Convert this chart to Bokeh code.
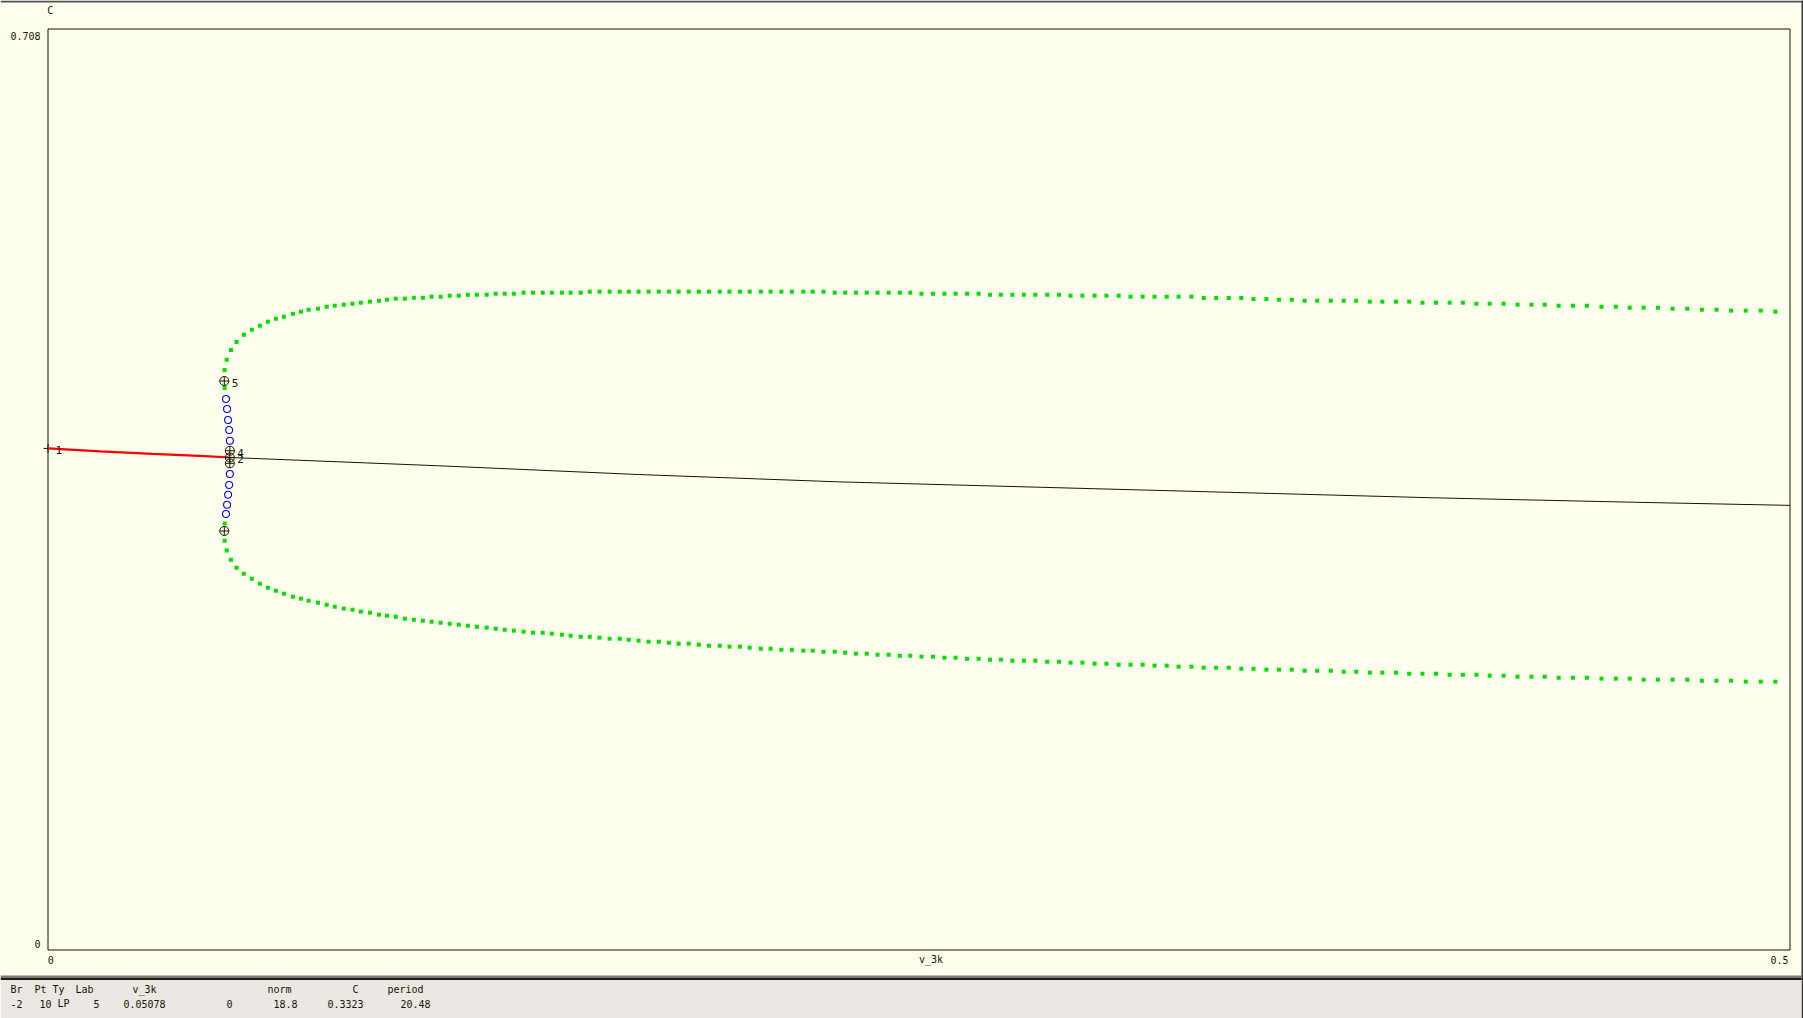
from bokeh.plotting import figure
from bokeh.models import Range1d
from bokeh.embed import file_html
from bokeh.resources import INLINE
from bokeh.core.properties import value

# ---------------- data ----------------
x_label = "v_3k"
y_label = "C"
x_range_lim = [0.0, 0.5]
y_range_lim = [0.0, 0.708]
x_tick_labels = ["0", "0.5"]
y_tick_labels = ["0", "0.708"]

# steady state branch: stable part (red) and unstable part (black)
ss_stable_v = [0.0, 0.015, 0.030, 0.045, 0.0522]
ss_stable_c = [0.3856, 0.3833, 0.3814, 0.3796, 0.3786]
ss_unstable_v = [0.0522, 0.1124, 0.1695, 0.2266, 0.2837, 0.3409, 0.3980, 0.4551, 0.5]
ss_unstable_c = [0.3786, 0.3722, 0.3655, 0.3599, 0.3558, 0.3517, 0.3476, 0.3442, 0.3418]

# unstable periodic orbits (max / min), Hopf -> limit point
upo_v = [0.0522, 0.0520, 0.0517, 0.0514, 0.0511]
upo_cmax = [0.3915, 0.3997, 0.4074, 0.4159, 0.4236]
upo_cmin = [0.3659, 0.3575, 0.3500, 0.3423, 0.3352]

# stable periodic orbits (max / min)
po_v = [0.0507, 0.0507, 0.0513, 0.0525, 0.0541, 0.0562, 0.0585, 0.0608, 0.0631, 0.0654,
        0.0677, 0.0703, 0.0726, 0.0748, 0.0775, 0.0800, 0.0823, 0.0849, 0.0874, 0.0898,
        0.0924, 0.0950, 0.0973, 0.0998, 0.1024, 0.1050, 0.1076, 0.1101, 0.1127, 0.1153,
        0.1179, 0.1205, 0.1231, 0.1259, 0.1285, 0.1311, 0.1337, 0.1365, 0.1392, 0.1420,
        0.1446, 0.1475, 0.1500, 0.1529, 0.1555, 0.1583, 0.1612, 0.1641, 0.1667, 0.1695,
        0.1724, 0.1753, 0.1782, 0.1810, 0.1839, 0.1868, 0.1897, 0.1928, 0.1956, 0.1986,
        0.2014, 0.2046, 0.2074, 0.2105, 0.2135, 0.2168, 0.2195, 0.2226, 0.2258, 0.2288,
        0.2319, 0.2350, 0.2381, 0.2413, 0.2445, 0.2475, 0.2507, 0.2540, 0.2573, 0.2605,
        0.2638, 0.2671, 0.2704, 0.2735, 0.2768, 0.2801, 0.2834, 0.2868, 0.2902, 0.2935,
        0.2969, 0.3004, 0.3038, 0.3073, 0.3107, 0.3142, 0.3176, 0.3211, 0.3245, 0.3282,
        0.3317, 0.3353, 0.3389, 0.3425, 0.3460, 0.3497, 0.3533, 0.3570, 0.3607, 0.3643,
        0.3682, 0.3719, 0.3755, 0.3794, 0.3830, 0.3869, 0.3907, 0.3945, 0.3984, 0.4023,
        0.4061, 0.4100, 0.4138, 0.4178, 0.4218, 0.4258, 0.4296, 0.4336, 0.4377, 0.4417,
        0.4459, 0.4500, 0.4540, 0.4580, 0.4621, 0.4663, 0.4705, 0.4747, 0.4789, 0.4831,
        0.4873, 0.4916, 0.4958]
po_cmax = [0.4320, 0.4459, 0.4538, 0.4612, 0.4674, 0.4730, 0.4768, 0.4799, 0.4830, 0.4853,
           0.4868, 0.4891, 0.4907, 0.4922, 0.4930, 0.4945, 0.4953, 0.4961, 0.4968, 0.4976,
           0.4984, 0.4991, 0.4999, 0.5007, 0.5007, 0.5014, 0.5014, 0.5022, 0.5022, 0.5030,
           0.5030, 0.5037, 0.5037, 0.5037, 0.5045, 0.5045, 0.5045, 0.5053, 0.5053, 0.5053,
           0.5053, 0.5053, 0.5053, 0.5053, 0.5061, 0.5061, 0.5061, 0.5061, 0.5061, 0.5061,
           0.5061, 0.5061, 0.5061, 0.5061, 0.5061, 0.5061, 0.5061, 0.5061, 0.5061, 0.5061,
           0.5061, 0.5061, 0.5061, 0.5061, 0.5061, 0.5061, 0.5061, 0.5061, 0.5053, 0.5053,
           0.5053, 0.5053, 0.5053, 0.5053, 0.5053, 0.5053, 0.5045, 0.5045, 0.5045, 0.5045,
           0.5045, 0.5045, 0.5037, 0.5037, 0.5037, 0.5037, 0.5037, 0.5037, 0.5037, 0.5030,
           0.5030, 0.5030, 0.5030, 0.5030, 0.5022, 0.5022, 0.5022, 0.5022, 0.5022, 0.5022,
           0.5012, 0.5012, 0.5012, 0.5012, 0.5004, 0.5004, 0.4999, 0.4999, 0.4991, 0.4991,
           0.4991, 0.4991, 0.4991, 0.4984, 0.4984, 0.4984, 0.4984, 0.4976, 0.4976, 0.4976,
           0.4976, 0.4968, 0.4968, 0.4968, 0.4961, 0.4961, 0.4961, 0.4953, 0.4953, 0.4953,
           0.4945, 0.4945, 0.4938, 0.4938, 0.4938, 0.4930, 0.4930, 0.4922, 0.4922, 0.4915,
           0.4915, 0.4915, 0.4907]
po_cmin = [0.3279, 0.3146, 0.3072, 0.3000, 0.2939, 0.2893, 0.2854, 0.2816, 0.2785, 0.2762,
           0.2739, 0.2716, 0.2701, 0.2685, 0.2670, 0.2654, 0.2639, 0.2624, 0.2616, 0.2601,
           0.2593, 0.2578, 0.2570, 0.2562, 0.2547, 0.2539, 0.2531, 0.2524, 0.2516, 0.2508,
           0.2501, 0.2493, 0.2485, 0.2478, 0.2470, 0.2462, 0.2455, 0.2447, 0.2439, 0.2439,
           0.2432, 0.2424, 0.2416, 0.2408, 0.2408, 0.2401, 0.2393, 0.2393, 0.2385, 0.2378,
           0.2370, 0.2370, 0.2362, 0.2355, 0.2355, 0.2347, 0.2339, 0.2339, 0.2332, 0.2332,
           0.2324, 0.2316, 0.2316, 0.2308, 0.2308, 0.2301, 0.2301, 0.2293, 0.2293, 0.2285,
           0.2278, 0.2278, 0.2270, 0.2270, 0.2262, 0.2262, 0.2255, 0.2255, 0.2247, 0.2247,
           0.2239, 0.2239, 0.2232, 0.2232, 0.2224, 0.2224, 0.2224, 0.2216, 0.2216, 0.2209,
           0.2209, 0.2201, 0.2201, 0.2193, 0.2193, 0.2193, 0.2186, 0.2186, 0.2178, 0.2178,
           0.2170, 0.2170, 0.2170, 0.2162, 0.2162, 0.2155, 0.2155, 0.2155, 0.2147, 0.2147,
           0.2147, 0.2139, 0.2139, 0.2132, 0.2132, 0.2132, 0.2124, 0.2124, 0.2124, 0.2116,
           0.2116, 0.2116, 0.2109, 0.2109, 0.2101, 0.2101, 0.2101, 0.2093, 0.2093, 0.2093,
           0.2086, 0.2086, 0.2086, 0.2078, 0.2078, 0.2078, 0.2078, 0.2070, 0.2070, 0.2070,
           0.2063, 0.2063, 0.2063]

# special (labelled) points
sp_v = [0.0, 0.0522, 0.0522, 0.0522, 0.0506, 0.0506]
sp_c = [0.3856, 0.3786, 0.3838, 0.3741, 0.4374, 0.3221]
sp_label = ["1", "2", "4", "", "5", ""]

# status line
status_head = ["Br", "Pt", "Ty", "Lab", "v_3k", "norm", "C", "period"]
status_vals = ["-2", "10", "LP", "5", "0.05078", "0", "18.8", "0.3323", "20.48"]

# ---------------- layout (pixels of the window) ----------------
FIG_W, FIG_H = 1803, 1018
FRAME_L, FRAME_R, FRAME_T, FRAME_B = 47.5, 1789.5, 28.5, 949.5
TXT_UP = 5.0  # baseline correction for the svg text, in px

DX = (x_range_lim[1] - x_range_lim[0]) / (FRAME_R - FRAME_L)
DY = (y_range_lim[1] - y_range_lim[0]) / (FRAME_B - FRAME_T)
X_START = x_range_lim[0] - FRAME_L * DX
X_END = x_range_lim[1] + (FIG_W - FRAME_R) * DX
Y_END = y_range_lim[1] + FRAME_T * DY
Y_START = y_range_lim[0] - (FIG_H - FRAME_B) * DY


def px(xp):
    return X_START + xp * DX


def py(yp):
    return Y_END - yp * DY


BG = "#FFFFEE"
STATUS_BG = "#EBE8E3"
INK = "#141400"
FONT = value("DejaVu Sans Mono")
FS = "10px"

p = figure(width=FIG_W, height=FIG_H, output_backend="svg", toolbar_location=None,
           x_range=Range1d(X_START, X_END), y_range=Range1d(Y_START, Y_END),
           x_axis_location=None, y_axis_location=None,
           min_border_left=0, min_border_right=0, min_border_top=0, min_border_bottom=0)
p.grid.visible = False
p.background_fill_color = BG
p.border_fill_color = BG
p.outline_line_color = None

# window decorations
p.quad(left=[px(0)], right=[px(FIG_W)], top=[py(0)], bottom=[py(2)], fill_color="#505050", line_color=None)
p.quad(left=[px(1801)], right=[px(FIG_W)], top=[py(0)], bottom=[py(FIG_H)], fill_color="#3A3A3A", line_color=None)
p.quad(left=[px(0)], right=[px(1801)], top=[py(975)], bottom=[py(977.3)], fill_color="#7A7A78", line_color=None)
p.quad(left=[px(0)], right=[px(1801)], top=[py(977.3)], bottom=[py(979.5)], fill_color="#1E1E10", line_color=None)
p.quad(left=[px(0)], right=[px(1801)], top=[py(979.5)], bottom=[py(FIG_H)], fill_color=STATUS_BG, line_color=None)

# plot frame
p.quad(left=[x_range_lim[0]], right=[x_range_lim[1]], top=[y_range_lim[1]], bottom=[y_range_lim[0]],
       fill_color=None, line_color=INK, line_width=1)

# steady state
p.line(ss_unstable_v, ss_unstable_c, line_color=INK, line_width=1)
p.scatter([sp_v[0]], [sp_c[0]], marker="cross", size=9, line_color=INK, line_width=1)
p.line(ss_stable_v, ss_stable_c, line_color="#FF0000", line_width=2.2)

# periodic orbits
p.scatter(upo_v + upo_v, upo_cmax + upo_cmin, marker="circle", size=7,
          fill_color=None, line_color="#0000FF", line_width=1.1)
p.scatter(po_v + po_v, po_cmax + po_cmin, marker="square", size=4,
          fill_color="#00E000", line_color=None)

# special points
p.scatter(sp_v[1:], sp_c[1:], marker="circle_cross", size=9, fill_color=None,
          line_color=INK, line_width=1)
lab_v = [v + 7.5 * DX for v, l in zip(sp_v, sp_label) if l]
lab_c = [c - (7.0 - TXT_UP) * DY for c, l in zip(sp_c, sp_label) if l]
lab_t = [l for l in sp_label if l]
p.text(x=lab_v, y=lab_c, text=lab_t, text_font=FONT, text_font_size="11px",
       text_color=INK, text_align="left", text_baseline="alphabetic")

# tick labels and axis names (XPP style)
tk = dict(text_font=FONT, text_font_size=FS, text_color=INK, text_baseline="alphabetic")
p.text(x=[x_range_lim[0] - 7.5 * DX], y=[y_range_lim[1] - (12.0 - TXT_UP) * DY], text=[y_tick_labels[1]],
       text_align="right", **tk)
p.text(x=[x_range_lim[0] - 7.5 * DX], y=[y_range_lim[0] + (1.5 + TXT_UP) * DY], text=[y_tick_labels[0]],
       text_align="right", **tk)
p.text(x=[x_range_lim[0] - 0.3 * DX], y=[y_range_lim[0] - (14.5 - TXT_UP) * DY], text=[x_tick_labels[0]],
       text_align="left", **tk)
p.text(x=[x_range_lim[1] - 1.5 * DX], y=[y_range_lim[0] - (14.5 - TXT_UP) * DY], text=[x_tick_labels[1]],
       text_align="right", **tk)
p.text(x=[(x_range_lim[0] + x_range_lim[1]) / 2], y=[y_range_lim[0] - (14.0 - TXT_UP) * DY], text=[x_label],
       text_align="left", **tk)
p.text(x=[x_range_lim[0] - 0.8 * DX], y=[y_range_lim[1] + (13.5 + TXT_UP) * DY], text=[y_label],
       text_align="left", **tk)

# status bar text
head_x = [10, 34, 52, 75, 132, 267, 352, 387]
vals_x = [10, 39, 57, 93, 123, 226, 273, 327, 400]
p.text(x=[px(v) for v in head_x], y=[py(994 - TXT_UP)] * len(head_x), text=status_head,
       text_align="left", **tk)
p.text(x=[px(v) for v in vals_x], y=[py(1008 - TXT_UP)] * len(vals_x), text=status_vals,
       text_align="left", **tk)

open("out.html", "w").write(file_html(p, INLINE))
